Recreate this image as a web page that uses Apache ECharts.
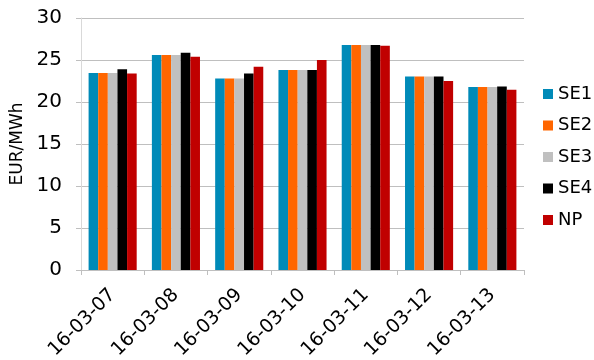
<!DOCTYPE html>
<html><head><meta charset="utf-8">
<script src="https://cdn.jsdelivr.net/npm/echarts@6/dist/echarts.min.js"></script>
<style>html,body{margin:0;padding:0;background:#fff}#c{width:594px;height:360px}</style>
</head><body><div id="c"></div>
<script>
const categories = ['16-03-07','16-03-08','16-03-09','16-03-10','16-03-11','16-03-12','16-03-13'];
const SE1 = [23.45, 25.6, 22.8, 23.8, 26.8, 23.05, 21.8];
const SE2 = [23.45, 25.6, 22.8, 23.8, 26.8, 23.05, 21.8];
const SE3 = [23.45, 25.6, 22.8, 23.8, 26.8, 23.05, 21.8];
const SE4 = [23.9, 25.85, 23.4, 23.8, 26.8, 23.05, 21.85];
const NP  = [23.4, 25.4, 24.2, 25.0, 26.7, 22.5, 21.45];
const seriesNames = ['SE1','SE2','SE3','SE4','NP'];
const seriesData = [SE1, SE2, SE3, SE4, NP];
const colors = ['#008AB8','#FF6600','#C0C0C0','#000000','#C00000'];
const yTicks = [0,5,10,15,20,25,30];

const font = '"DejaVu Sans", sans-serif';
const chart = echarts.init(document.getElementById('c'), null, {renderer:'canvas'});
chart.setOption({
  animation:false,
  color: colors,
  grid:{left:81, right:70, top:18, bottom:90, containLabel:false, outerBoundsMode:'none'},
  legend:{
    orient:'vertical', left:538, top:79,
    icon:'rect', itemWidth:10, itemHeight:10, itemGap:11.5,
    data: seriesNames,
    textStyle:{fontFamily:font, fontSize:18, color:'#000', lineHeight:20}
  },
  xAxis:{
    type:'category', data:categories,
    axisLine:{lineStyle:{color:'#BFBFBF'}},
    axisTick:{show:true, length:5, lineStyle:{color:'#BFBFBF'}},
    axisLabel:{rotate:45, fontFamily:font, fontSize:19, color:'#000', margin:22}
  },
  yAxis:{
    type:'value', min:yTicks[0], max:yTicks[yTicks.length-1], interval:5,
    name:'EUR/MWh', nameLocation:'middle', nameGap:43,
    nameTextStyle:{fontFamily:font, fontSize:17, color:'#000'},
    axisLine:{show:true, lineStyle:{color:'#D9D9D9'}},
    axisTick:{show:true, length:5, lineStyle:{color:'#BFBFBF'}},
    splitLine:{lineStyle:{color:'#BFBFBF'}},
    axisLabel:{fontFamily:font, fontSize:20, color:'#000', margin:19}
  },
  series: seriesNames.map((n,i)=>({
    name:n, type:'bar', data:seriesData[i],
    barGap:'0%', barCategoryGap:'24%'
  }))
});
</script></body></html>
